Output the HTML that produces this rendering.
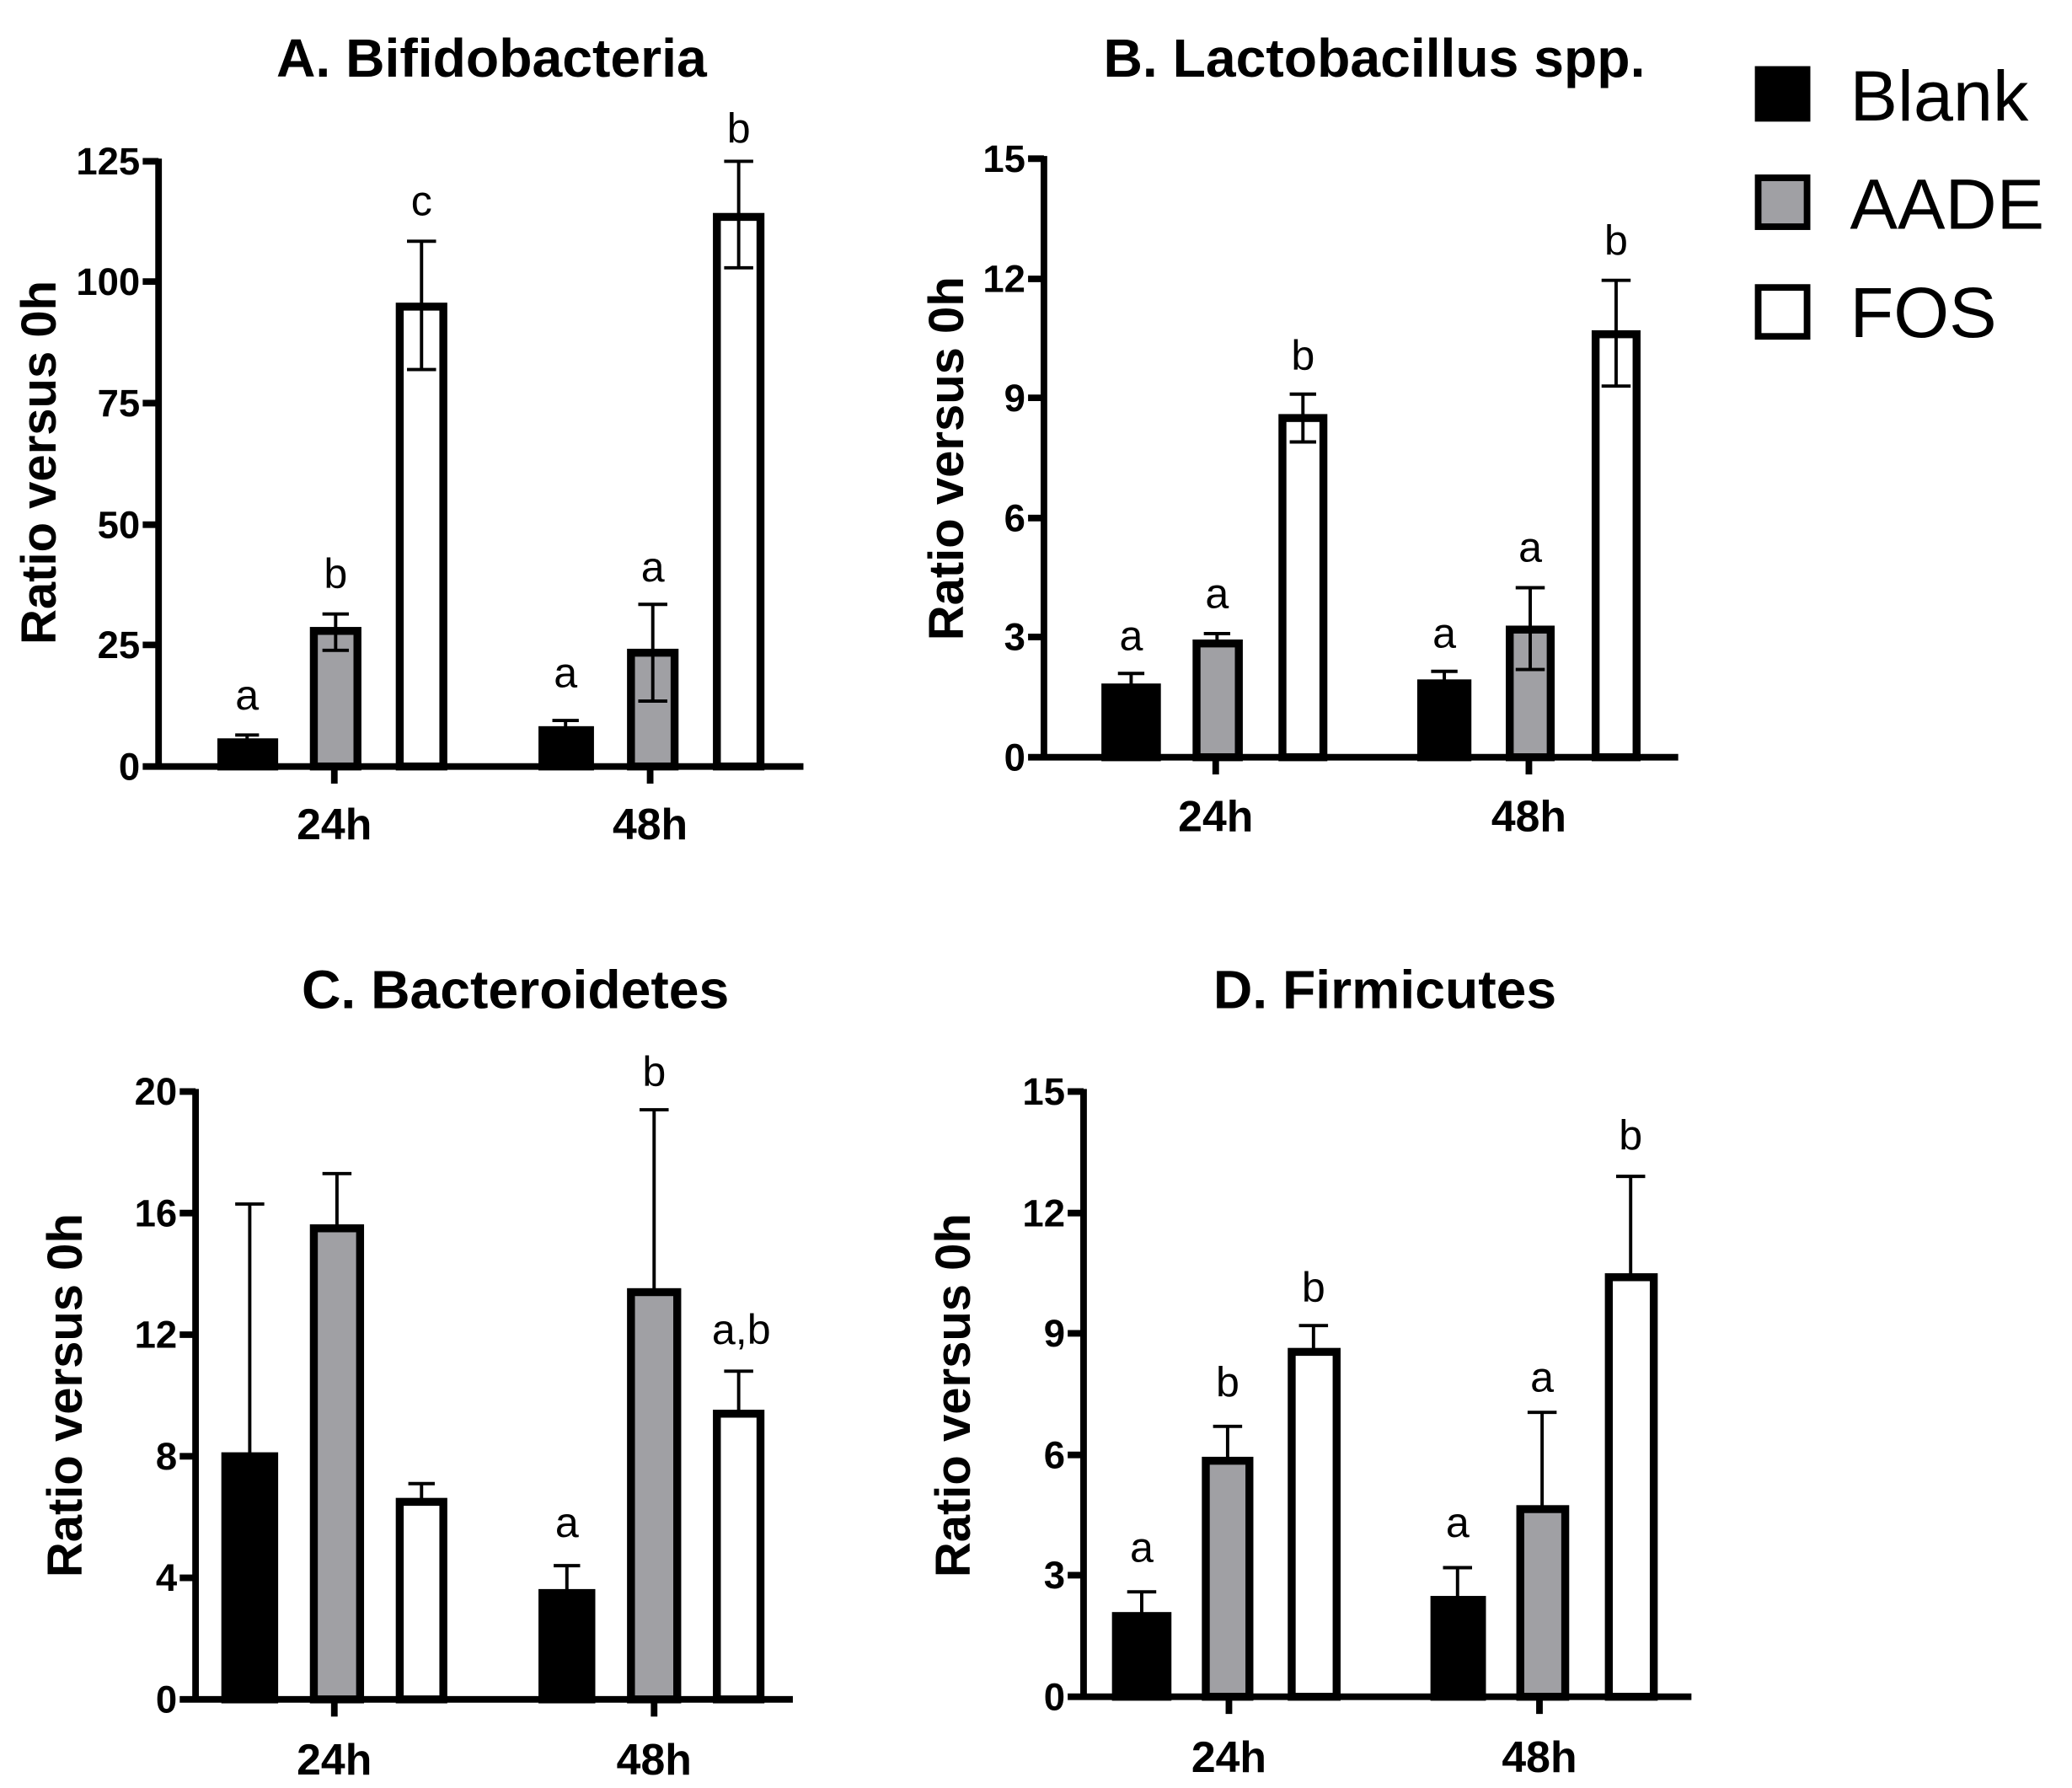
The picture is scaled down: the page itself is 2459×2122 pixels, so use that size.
<!DOCTYPE html>
<html><head><meta charset="utf-8"><style>
html,body{margin:0;padding:0;background:#fff;}
svg{display:block;}
text{font-family:"Liberation Sans",Arial,sans-serif;fill:#000;}
.t{font-weight:bold;font-size:41px;text-anchor:middle;}
.tk{font-weight:bold;font-size:29px;text-anchor:end;}
.xl{font-weight:bold;font-size:33px;text-anchor:middle;}
.yl{font-weight:bold;font-size:37px;text-anchor:middle;}
.l{font-size:32px;text-anchor:middle;}
.lg{font-size:54px;}
.ax{stroke:#000;stroke-width:5;fill:none;}
.bar{stroke:#000;stroke-width:6;}
.e{stroke:#000;stroke-width:2.5;fill:none;}
</style></head><body>
<svg width="2459" height="2122" viewBox="0 0 1568 1353" xmlns="http://www.w3.org/2000/svg">
<!-- Panel A -->
<text class="t" x="372" y="58">A. Bifidobacteria</text>
<text class="yl" transform="translate(42,350) rotate(-90)">Ratio versus 0h</text>
<path class="ax" d="M120,120 V580 H608 M108,122 H120 M108,213 H120 M108,305 H120 M108,397 H120 M108,488 H120 M108,580 H120 M253,580 V593 M492,580 V593"/>
<text class="tk" x="106" y="132">125</text><text class="tk" x="106" y="223">100</text><text class="tk" x="106" y="315">75</text><text class="tk" x="106" y="407">50</text><text class="tk" x="106" y="498">25</text><text class="tk" x="106" y="590">0</text>
<text class="xl" x="253" y="635">24h</text><text class="xl" x="492" y="635">48h</text>
<rect class="bar" fill="#000" x="167.5" y="561.7" width="40" height="18.3"/>
<rect class="bar" fill="#a0a0a4" x="237.5" y="477.4" width="33" height="102.6"/>
<rect class="bar" fill="#fff" x="302.5" y="232" width="33" height="348"/>
<rect class="bar" fill="#000" x="410.5" y="552.5" width="36" height="27.5"/>
<rect class="bar" fill="#a0a0a4" x="477.5" y="493.9" width="33" height="86.1"/>
<rect class="bar" fill="#fff" x="542.5" y="164.1" width="33" height="415.9"/>
<path class="e" d="M187,561 V556.2 M178,556.2 H196 M254,492.1 V464.6 M244,464.6 H264 M244,492.1 H264 M319,279.6 V182.5 M308,182.5 H330 M308,279.6 H330 M428,552 V545.2 M418,545.2 H438 M494,530.5 V457.3 M483,457.3 H505 M483,530.5 H505 M559,202.6 V122 M548,122 H570 M548,202.6 H570"/>
<text class="l" x="187" y="537">a</text><text class="l" x="254" y="445">b</text><text class="l" x="319" y="163">c</text>
<text class="l" x="428" y="520">a</text><text class="l" x="494" y="440">a</text><text class="l" x="559" y="108">b</text>

<!-- Panel B -->
<text class="t" x="1040" y="58">B. Lactobacillus spp.</text>
<text class="yl" transform="translate(729,347) rotate(-90)">Ratio versus 0h</text>
<path class="ax" d="M790,118 V573 H1270 M778,120 H790 M778,211 H790 M778,301 H790 M778,392 H790 M778,482 H790 M778,573 H790 M920,573 V586 M1157,573 V586"/>
<text class="tk" x="776" y="130">15</text><text class="tk" x="776" y="221">12</text><text class="tk" x="776" y="311">9</text><text class="tk" x="776" y="402">6</text><text class="tk" x="776" y="492">3</text><text class="tk" x="776" y="583">0</text>
<text class="xl" x="920" y="629">24h</text><text class="xl" x="1157" y="629">48h</text>
<rect class="bar" fill="#000" x="836.5" y="520.2" width="39" height="52.8"/>
<rect class="bar" fill="#a0a0a4" x="905.5" y="486.9" width="32" height="86.1"/>
<rect class="bar" fill="#fff" x="970.5" y="316.3" width="31" height="256.7"/>
<rect class="bar" fill="#000" x="1075.5" y="517.1" width="35" height="55.9"/>
<rect class="bar" fill="#a0a0a4" x="1142.5" y="476.4" width="31" height="96.6"/>
<rect class="bar" fill="#fff" x="1207.5" y="252.9" width="31" height="320.1"/>
<path class="e" d="M856,520 V509.6 M846,509.6 H866 M921,486 V479.4 M911,479.4 H931 M986,334.4 V298.2 M976,298.2 H996 M976,334.4 H996 M1093,517 V508 M1083,508 H1103 M1158,506.6 V444.7 M1147,444.7 H1169 M1147,506.6 H1169 M1223,292.1 V212.1 M1212,212.1 H1234 M1212,292.1 H1234"/>
<text class="l" x="856" y="492">a</text><text class="l" x="921" y="460">a</text><text class="l" x="986" y="280">b</text>
<text class="l" x="1093" y="490">a</text><text class="l" x="1158" y="425">a</text><text class="l" x="1223" y="193">b</text>

<!-- Legend -->
<rect x="1328" y="50" width="42" height="42" fill="#000"/>
<rect x="1330.5" y="134.5" width="37" height="37" fill="#a0a0a4" stroke="#000" stroke-width="5"/>
<rect x="1330.5" y="217.5" width="37" height="37" fill="#fff" stroke="#000" stroke-width="5"/>
<text class="lg" x="1400" y="91">Blank</text>
<text class="lg" x="1400" y="173">AADE</text>
<text class="lg" x="1400" y="255">FOS</text>

<!-- Panel C -->
<text class="t" x="390" y="763">C. Bacteroidetes</text>
<text class="yl" transform="translate(62,1056) rotate(-90)">Ratio versus 0h</text>
<path class="ax" d="M148,824 V1286 H600 M136,826 H148 M136,918 H148 M136,1010 H148 M136,1102 H148 M136,1194 H148 M136,1286 H148 M253,1286 V1299 M495,1286 V1299"/>
<text class="tk" x="134" y="836">20</text><text class="tk" x="134" y="928">16</text><text class="tk" x="134" y="1020">12</text><text class="tk" x="134" y="1112">8</text><text class="tk" x="134" y="1204">4</text><text class="tk" x="134" y="1296">0</text>
<text class="xl" x="253" y="1343">24h</text><text class="xl" x="495" y="1343">48h</text>
<rect class="bar" fill="#000" x="170.5" y="1102" width="37" height="184"/>
<rect class="bar" fill="#a0a0a4" x="237.5" y="929.5" width="35" height="356.5"/>
<rect class="bar" fill="#fff" x="302.5" y="1136.5" width="33" height="149.5"/>
<rect class="bar" fill="#000" x="410.5" y="1205.5" width="37" height="80.5"/>
<rect class="bar" fill="#a0a0a4" x="477.5" y="977.8" width="35" height="308.2"/>
<rect class="bar" fill="#fff" x="542.5" y="1069.8" width="33" height="216.2"/>
<path class="e" d="M189,1102 V911.1 M178,911.1 H200 M255,929 V888.1 M244,888.1 H266 M319,1136 V1122.7 M309,1122.7 H329 M429,1205 V1184.8 M419,1184.8 H439 M495,977 V839.8 M484,839.8 H506 M559,1069 V1037.6 M548,1037.6 H570"/>
<text class="l" x="429" y="1163">a</text><text class="l" x="495" y="822">b</text><text class="l" x="561" y="1017">a,b</text>

<!-- Panel D -->
<text class="t" x="1048" y="763">D. Firmicutes</text>
<text class="yl" transform="translate(734,1056) rotate(-90)">Ratio versus 0h</text>
<path class="ax" d="M820,824 V1284 H1280 M808,826 H820 M808,918 H820 M808,1009 H820 M808,1101 H820 M808,1192 H820 M808,1284 H820 M930,1284 V1297 M1165,1284 V1297"/>
<text class="tk" x="806" y="836">15</text><text class="tk" x="806" y="928">12</text><text class="tk" x="806" y="1019">9</text><text class="tk" x="806" y="1111">6</text><text class="tk" x="806" y="1202">3</text><text class="tk" x="806" y="1294">0</text>
<text class="xl" x="930" y="1341">24h</text><text class="xl" x="1165" y="1341">48h</text>
<rect class="bar" fill="#000" x="844.5" y="1222.9" width="39" height="61.1"/>
<rect class="bar" fill="#a0a0a4" x="912.5" y="1105.4" width="33" height="178.6"/>
<rect class="bar" fill="#fff" x="977.5" y="1023" width="34" height="261"/>
<rect class="bar" fill="#000" x="1085.5" y="1210.7" width="36" height="73.3"/>
<rect class="bar" fill="#a0a0a4" x="1150.5" y="1142" width="34" height="142"/>
<rect class="bar" fill="#fff" x="1217.5" y="966.5" width="34" height="317.5"/>
<path class="e" d="M864,1222 V1204.6 M853,1204.6 H875 M929,1105 V1079.4 M918,1079.4 H940 M994,1023 V1003.1 M983,1003.1 H1005 M1103,1210 V1186.3 M1092,1186.3 H1114 M1167,1142 V1068.8 M1156,1068.8 H1178 M1234,966 V890.2 M1223,890.2 H1245"/>
<text class="l" x="864" y="1182">a</text><text class="l" x="929" y="1057">b</text><text class="l" x="994" y="985">b</text>
<text class="l" x="1103" y="1163">a</text><text class="l" x="1167" y="1053">a</text><text class="l" x="1234" y="870">b</text>
</svg>
</body></html>
